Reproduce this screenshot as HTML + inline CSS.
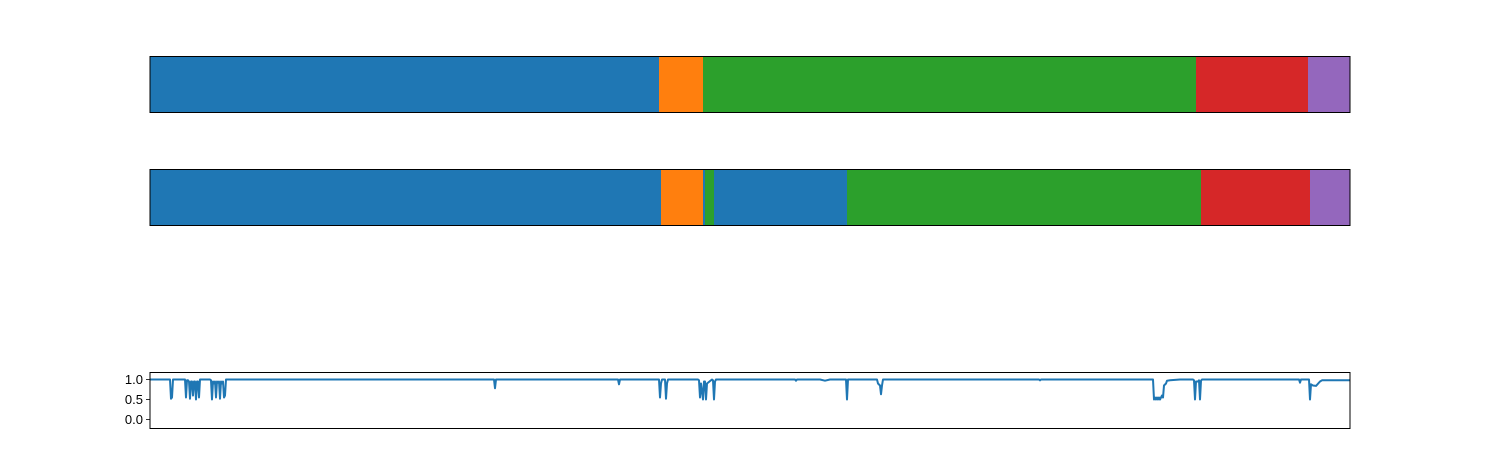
<!DOCTYPE html>
<html><head><meta charset="utf-8"><style>
html,body{margin:0;padding:0;background:#fff;}
svg{display:block;font-family:"Liberation Sans",sans-serif;}
</style></head><body>
<svg id="chart" width="1500" height="450"></svg>
<script>
const colors=["#1f77b4","#ff7f0e","#2ca02c","#d62728","#9467bd"];
// segment boundaries (sample index 0..1200) and class labels
const seg1Starts=[0,509,553,1046,1158];
const seg1Ends=[509,553,1046,1158,1200];
const seg1Class=[0,1,2,3,4];
const seg2Starts=[0,511,553,555,564,565,697,1051,1160];
const seg2Ends=[511,553,555,564,565,697,1051,1160,1200];
const seg2Class=[0,1,0,2,0,0,2,3,4];
// confidence series: sample index, value
const confX=[0,20,21,22,23,
  35,36,37,38,39,40,41,42,43,44,45,46,47,48,49,50,
  60,61,62,63,64,65,66,67,68,69,70,71,72,73,74,75,76,
  344,345,346,468,469,470,
  509,510,511,512,515,516,517,518,
  548,549,550,551,552,553,554,555,556,557,562,563,564,565,566,
  645,646,647,670,675,680,
  696,697,698,727,728,730,731,732,733,
  889,890,891,
  1003,1004,1005,1006,1007,1008,1009,1010,1011,1012,1013,1014,1016,1017,1020,1030,
  1043,1044,1045,1046,1048,1049,1050,1051,1052,
  1149,1150,1151,1159,1160,1161,1163,1166,1170,1172,1200];
const confY=[1,1,0.52,0.55,1,
  1,0.55,0.98,0.98,0.95,0.52,0.95,0.95,0.6,0.95,0.95,0.5,0.95,0.95,0.55,1,
  1,0.98,0.5,0.95,0.9,0.95,0.55,0.95,0.92,0.95,0.52,0.95,0.9,0.95,0.55,0.6,1,
  1,0.78,1,1,0.88,1,
  1,0.55,0.9,1,1,0.52,0.9,1,
  1,0.98,0.55,0.9,0.7,0.5,0.95,0.95,0.5,0.9,1,0.98,0.5,0.95,1,
  1,0.97,1,1,0.97,1,
  1,0.5,1,1,0.9,0.85,0.63,0.85,1,
  1,0.98,1,
  1,0.5,0.55,0.5,0.55,0.5,0.55,0.5,0.55,0.6,0.55,0.85,0.9,0.97,0.98,1,
  1,0.98,0.5,0.95,0.95,0.98,0.5,0.97,1,
  1,0.92,1,1,0.5,0.88,0.85,0.84,0.95,0.98,0.98];
const yTicks=[0.0,0.5,1.0];
const yTickLabels=["0.0","0.5","1.0"];

const NS="http://www.w3.org/2000/svg";
const svg=document.getElementById('chart');
const L=150,R=1350;
const x=v=>L+(v/1200)*(R-L);
function mk(t,a){const e=document.createElementNS(NS,t);for(const k in a)e.setAttribute(k,a[k]);return e;}
function drawSeg(top,starts,ends,cls,name){
  const g=mk('g',{});
  
  
  for(let i=0;i<starts.length;i++){
    const r=mk('rect',{x:x(starts[i]),y:top,width:Math.max(x(ends[i])-x(starts[i]),0.6),height:56,fill:colors[cls[i]]});
    
    
    g.appendChild(r);
  }
  const f=mk('rect',{x:L,y:top,width:R-L,height:56,fill:'none',stroke:'#000','stroke-width':1});
  
  
  g.appendChild(f);
  svg.appendChild(g);
}
drawSeg(56.5,seg1Starts,seg1Ends,seg1Class,'ground-truth-segments');
drawSeg(169.5,seg2Starts,seg2Ends,seg2Class,'predicted-segments');

const top3=372;
const y=v=>379.5+(1-v)*40;
const g3=mk('g',{});


let d='';
for(let i=0;i<confX.length;i++)d+=(i?'L':'M')+x(confX[i]).toFixed(2)+' '+y(confY[i]).toFixed(2);
const line=mk('path',{d:d,fill:'none',stroke:'#1f77b4','stroke-width':2,'stroke-linejoin':'round'});


g3.appendChild(line);
const f3=mk('rect',{x:L,y:top3+0.5,width:R-L,height:56,fill:'none',stroke:'#000','stroke-width':1});


g3.appendChild(f3);
yTicks.forEach((t,i)=>{
  const tk=mk('line',{x1:L-4,x2:L,y1:y(t),y2:y(t),stroke:'#000','stroke-width':0.8});
  
  
  g3.appendChild(tk);
  const tx=mk('text',{x:L-7,y:y(t)+4.5,'text-anchor':'end','font-size':13,fill:'#000'});
  tx.textContent=yTickLabels[i];
  
  
  g3.appendChild(tx);
});
svg.appendChild(g3);
</script>
</body></html>
